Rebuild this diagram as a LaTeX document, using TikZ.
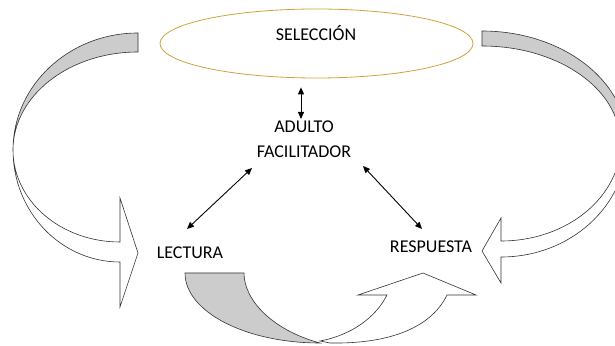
\documentclass[tikz,border=0pt]{standalone}
\usepackage{fontspec}
\setmainfont{Carlito}
\usetikzlibrary{arrows.meta}
\usetikzlibrary{positioning}
\usetikzlibrary{shapes.geometric}
\definecolor{selgold}{RGB}{204,163,58}
\definecolor{bandgray}{RGB}{204,204,204}
\tikzset{
  labeltext/.style={font=\fontsize{18}{25}\selectfont, inner sep=0pt, align=center},
  link/.style={{Triangle[length=7pt,width=6pt]}-{Triangle[length=7pt,width=6pt]}, line width=0.9pt},
  band/.style={draw=black!80, line width=0.6pt},
}

\begin{document}
\begin{tikzpicture}[x=1pt, y=1pt, every node/.style={labeltext}]
  \useasboundingbox (0,0) rectangle (615,345);
  \clip (0,0) rectangle (615,345);

  % left block arrow
  \path [band, fill=bandgray] (138,312) arc[start angle=90, end angle=180, x radius=125, y radius=117]
    arc[start angle=180, end angle=90, x radius=125, y radius=98] -- cycle;
  \path [band, fill=white] (13,195) arc[start angle=180, end angle=270, x radius=107, y radius=112]
    -- (120,38) -- (138,92) -- (120,147) -- (120,103)
    arc[start angle=270, end angle=180, x radius=107, y radius=92] -- cycle;

  % right block arrow
  \path [band, fill=bandgray] (482,314) arc[start angle=90, end angle=0, x radius=145, y radius=111]
    -- (620,203) arc[start angle=0, end angle=90, x radius=138, y radius=96] -- cycle;
  \path [band, fill=white] (627,203) arc[start angle=0, end angle=-90, x radius=126, y radius=115]
    -- (501,62) -- (482,94) -- (501,127) -- (501,104)
    arc[start angle=-90, end angle=0, x radius=120, y radius=99] -- cycle;

  % bottom block arrow
  \path [band, fill=bandgray] (185,72) -- (244,72) .. controls (244,45) and (272,15) .. (320,2)
    arc[start angle=270, end angle=180, x radius=135, y radius=70] -- cycle;
  \path [band, fill=white] (320,4) .. controls (352,10) and (376,28) .. (387,50)
    -- (358,50) -- (423,72) -- (476,50) -- (447,50)
    .. controls (430,15) and (385,1) .. (330,2) -- cycle;

  \node [ellipse, draw=selgold, line width=0.8pt, minimum width=313pt, minimum height=69pt] (sel) at (316.5,301.5) {};
  \node [anchor=base] (seltext) at (316,304) {SELECCIÓN};
  \node [anchor=base] (adulto) at (304,187) {ADULTO\\FACILITADOR};
  \node [anchor=base] (lectura) at (190,86) {LECTURA};
  \node [anchor=base] (respuesta) at (431,92) {RESPUESTA};

  \draw [link] ([xshift=-15.5pt,yshift=-9pt]sel.south) -- ([xshift=-3pt,yshift=39pt]adulto.base);
  \draw [link] ([shift={(-3pt,30pt)}]lectura.base) -- ([shift={(-52pt,-10pt)}]adulto.base);
  \draw [link] ([shift={(59pt,-8pt)}]adulto.base) -- ([shift={(-9pt,24pt)}]respuesta.base);
\end{tikzpicture}
\end{document}
